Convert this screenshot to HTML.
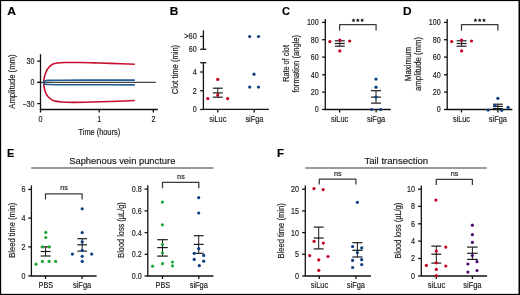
<!DOCTYPE html>
<html><head><meta charset="utf-8"><title>Figure</title>
<style>
html,body{margin:0;padding:0;background:#fff;}
body{width:520px;height:295px;overflow:hidden;}
svg{display:block;font-family:"Liberation Sans", sans-serif;will-change:transform;}
</style></head>
<body>
<svg width="520" height="295" viewBox="0 0 520 295">
<rect x="0" y="0" width="520" height="295" fill="#fff"/>
<text x="7.3" y="15.2" text-anchor="start" font-size="11" font-weight="bold" fill="#000" textLength="8.74" lengthAdjust="spacingAndGlyphs" stroke="#222" stroke-width="0.18">A</text>
<text x="169.8" y="15.2" text-anchor="start" font-size="11" font-weight="bold" fill="#000" textLength="8.58" lengthAdjust="spacingAndGlyphs" stroke="#222" stroke-width="0.18">B</text>
<text x="282.0" y="15.2" text-anchor="start" font-size="11" font-weight="bold" fill="#000" textLength="7.94" lengthAdjust="spacingAndGlyphs" stroke="#222" stroke-width="0.18">C</text>
<text x="402.9" y="14.9" text-anchor="start" font-size="11" font-weight="bold" fill="#000" textLength="8.58" lengthAdjust="spacingAndGlyphs" stroke="#222" stroke-width="0.18">D</text>
<text x="7.0" y="157.3" text-anchor="start" font-size="11" font-weight="bold" fill="#000" textLength="7.34" lengthAdjust="spacingAndGlyphs" stroke="#222" stroke-width="0.18">E</text>
<text x="277.0" y="157.3" text-anchor="start" font-size="11" font-weight="bold" fill="#000" textLength="7.06" lengthAdjust="spacingAndGlyphs" stroke="#222" stroke-width="0.18">F</text>
<path d="M43.75,82.40 C43.76,82.08 43.72,81.27 43.80,80.50 C43.88,79.73 43.98,78.80 44.20,77.80 C44.42,76.80 44.74,75.58 45.10,74.50 C45.46,73.42 45.98,72.13 46.35,71.30 C46.72,70.47 47.00,70.00 47.30,69.50 C47.60,69.00 47.80,68.75 48.15,68.30 C48.50,67.85 48.72,67.43 49.40,66.80 C50.08,66.17 51.13,65.08 52.20,64.50 C53.27,63.92 54.42,63.59 55.80,63.30 C57.18,63.01 58.88,62.88 60.50,62.75 C62.12,62.62 63.92,62.55 65.50,62.50 C67.08,62.45 67.58,62.45 70.00,62.45 C72.42,62.45 75.92,62.43 80.00,62.50 C84.08,62.57 89.50,62.70 94.50,62.85 C99.50,63.00 103.28,63.17 110.00,63.40 C116.72,63.62 130.67,64.07 134.80,64.20" fill="none" stroke="#c8102e" stroke-width="1.6" stroke-linejoin="round"/>
<path d="M43.75,82.40 C43.76,82.72 43.74,83.53 43.80,84.30 C43.86,85.07 43.93,86.02 44.10,87.00 C44.27,87.98 44.52,89.20 44.80,90.20 C45.08,91.20 45.52,92.28 45.80,93.00 C46.08,93.72 46.11,93.87 46.50,94.50 C46.89,95.13 47.48,96.08 48.15,96.80 C48.82,97.52 49.66,98.23 50.50,98.85 C51.34,99.47 52.13,100.08 53.20,100.50 C54.27,100.92 55.52,101.16 56.90,101.40 C58.28,101.64 59.73,101.80 61.50,101.95 C63.27,102.10 65.25,102.23 67.50,102.30 C69.75,102.37 72.08,102.37 75.00,102.35 C77.92,102.33 80.83,102.29 85.00,102.20 C89.17,102.11 94.50,101.97 100.00,101.80 C105.50,101.63 112.20,101.42 118.00,101.20 C123.80,100.98 132.00,100.62 134.80,100.50" fill="none" stroke="#c8102e" stroke-width="1.6" stroke-linejoin="round"/>
<path d="M43.50,82.40 C43.62,82.22 43.87,81.58 44.20,81.30 C44.53,81.02 44.87,80.85 45.50,80.70 C46.13,80.55 45.58,80.48 48.00,80.40 C50.42,80.32 51.33,80.24 60.00,80.20 C68.67,80.16 87.53,80.17 100.00,80.15 C112.47,80.13 129.00,80.11 134.80,80.10" fill="none" stroke="#235d95" stroke-width="1.65" stroke-linejoin="round"/>
<path d="M43.50,82.50 C43.62,82.68 43.87,83.32 44.20,83.60 C44.53,83.88 44.87,84.05 45.50,84.20 C46.13,84.35 45.58,84.42 48.00,84.50 C50.42,84.58 51.33,84.66 60.00,84.70 C68.67,84.74 87.53,84.73 100.00,84.75 C112.47,84.77 129.00,84.79 134.80,84.80" fill="none" stroke="#235d95" stroke-width="1.65" stroke-linejoin="round"/>
<line x1="37.2" y1="82.4" x2="155.8" y2="82.4" stroke="#444" stroke-width="1.3" />
<line x1="40.5" y1="54.2" x2="40.5" y2="109.5" stroke="#111" stroke-width="1.3" />
<line x1="37.3" y1="61.1" x2="40.5" y2="61.1" stroke="#111" stroke-width="1.3" />
<text x="34.5" y="64.0" text-anchor="end" font-size="8.6" font-weight="normal" fill="#222" textLength="7.94" lengthAdjust="spacingAndGlyphs" stroke="#222" stroke-width="0.18">30</text>
<line x1="37.3" y1="82.4" x2="40.5" y2="82.4" stroke="#111" stroke-width="1.3" />
<text x="34.5" y="85.30000000000001" text-anchor="end" font-size="8.6" font-weight="normal" fill="#222" textLength="3.97" lengthAdjust="spacingAndGlyphs" stroke="#222" stroke-width="0.18">0</text>
<line x1="37.3" y1="103.6" x2="40.5" y2="103.6" stroke="#111" stroke-width="1.3" />
<text x="34.5" y="106.5" text-anchor="end" font-size="8.6" font-weight="normal" fill="#222" textLength="12.11" lengthAdjust="spacingAndGlyphs" stroke="#222" stroke-width="0.18">−30</text>
<line x1="39.85" y1="109.5" x2="157.8" y2="109.5" stroke="#111" stroke-width="1.3" />
<line x1="40.5" y1="109.5" x2="40.5" y2="112.5" stroke="#111" stroke-width="1.3" />
<line x1="99.2" y1="109.5" x2="99.2" y2="112.5" stroke="#111" stroke-width="1.3" />
<line x1="153.3" y1="109.5" x2="153.3" y2="112.5" stroke="#111" stroke-width="1.3" />
<text x="40.5" y="121.8" text-anchor="middle" font-size="8.6" font-weight="normal" fill="#222" textLength="3.97" lengthAdjust="spacingAndGlyphs" stroke="#222" stroke-width="0.18">0</text>
<text x="99.2" y="121.8" text-anchor="middle" font-size="8.6" font-weight="normal" fill="#222" textLength="3.97" lengthAdjust="spacingAndGlyphs" stroke="#222" stroke-width="0.18">1</text>
<text x="153.5" y="121.8" text-anchor="middle" font-size="8.6" font-weight="normal" fill="#222" textLength="3.97" lengthAdjust="spacingAndGlyphs" stroke="#222" stroke-width="0.18">2</text>
<text x="99.3" y="134.7" text-anchor="middle" font-size="8.6" font-weight="normal" fill="#222" textLength="41.6" lengthAdjust="spacingAndGlyphs" stroke="#222" stroke-width="0.18">Time (hours)</text>
<text transform="translate(15.1,81.6) rotate(-90)" text-anchor="middle" font-size="8.6" font-weight="normal" fill="#222" textLength="54.2" lengthAdjust="spacingAndGlyphs" stroke="#222" stroke-width="0.18">Amplitude (mm)</text>
<line x1="203.4" y1="30.3" x2="203.4" y2="49.3" stroke="#111" stroke-width="1.3" />
<line x1="200.2" y1="36.5" x2="203.4" y2="36.5" stroke="#111" stroke-width="1.3" />
<line x1="200.2" y1="49.3" x2="206.4" y2="49.3" stroke="#111" stroke-width="1.3" />
<line x1="203.4" y1="62.7" x2="203.4" y2="109.5" stroke="#111" stroke-width="1.3" />
<line x1="200.2" y1="62.7" x2="206.4" y2="62.7" stroke="#111" stroke-width="1.3" />
<line x1="200.2" y1="72.0" x2="203.4" y2="72.0" stroke="#111" stroke-width="1.3" />
<line x1="200.2" y1="90.7" x2="203.4" y2="90.7" stroke="#111" stroke-width="1.3" />
<line x1="200.2" y1="109.5" x2="203.4" y2="109.5" stroke="#111" stroke-width="1.3" />
<text x="196.8" y="39.4" text-anchor="end" font-size="8.6" font-weight="normal" fill="#222" textLength="12.6" lengthAdjust="spacingAndGlyphs" stroke="#222" stroke-width="0.18">&gt;60</text>
<text x="196.8" y="52.199999999999996" text-anchor="end" font-size="8.6" font-weight="normal" fill="#222" textLength="7.94" lengthAdjust="spacingAndGlyphs" stroke="#222" stroke-width="0.18">60</text>
<text x="196.8" y="74.9" text-anchor="end" font-size="8.6" font-weight="normal" fill="#222" textLength="3.97" lengthAdjust="spacingAndGlyphs" stroke="#222" stroke-width="0.18">4</text>
<text x="196.8" y="93.60000000000001" text-anchor="end" font-size="8.6" font-weight="normal" fill="#222" textLength="3.97" lengthAdjust="spacingAndGlyphs" stroke="#222" stroke-width="0.18">2</text>
<text x="196.8" y="112.4" text-anchor="end" font-size="8.6" font-weight="normal" fill="#222" textLength="3.97" lengthAdjust="spacingAndGlyphs" stroke="#222" stroke-width="0.18">0</text>
<line x1="202.75" y1="109.4" x2="268.9" y2="109.4" stroke="#111" stroke-width="1.3" />
<line x1="217.8" y1="109.4" x2="217.8" y2="112.4" stroke="#111" stroke-width="1.3" />
<line x1="254.2" y1="109.4" x2="254.2" y2="112.4" stroke="#111" stroke-width="1.3" />
<text x="217.8" y="121.9" text-anchor="middle" font-size="8.6" font-weight="normal" fill="#222" textLength="17.0" lengthAdjust="spacingAndGlyphs" stroke="#222" stroke-width="0.18">siLuc</text>
<text x="254.4" y="121.9" text-anchor="middle" font-size="8.6" font-weight="normal" fill="#222" textLength="18.0" lengthAdjust="spacingAndGlyphs" stroke="#222" stroke-width="0.18">siFga</text>
<text transform="translate(178.0,69.5) rotate(-90)" text-anchor="middle" font-size="8.6" font-weight="normal" fill="#222" textLength="49.3" lengthAdjust="spacingAndGlyphs" stroke="#222" stroke-width="0.18">Clot time (min)</text>
<line x1="217.75" y1="88.2" x2="217.75" y2="97.2" stroke="#1a1a1a" stroke-width="1.0" />
<line x1="212.8" y1="88.2" x2="222.7" y2="88.2" stroke="#1a1a1a" stroke-width="1.2" />
<line x1="212.8" y1="92.9" x2="222.7" y2="92.9" stroke="#1a1a1a" stroke-width="1.2" />
<line x1="212.8" y1="97.2" x2="222.7" y2="97.2" stroke="#1a1a1a" stroke-width="1.2" />
<circle cx="207.8" cy="98.6" r="1.6" fill="#c70025"/>
<circle cx="217.75" cy="79.4" r="1.6" fill="#c70025"/>
<circle cx="217.75" cy="95.0" r="1.6" fill="#c70025"/>
<circle cx="227.6" cy="98.6" r="1.6" fill="#c70025"/>
<circle cx="249.7" cy="36.5" r="1.6" fill="#0b3f7f"/>
<circle cx="258.5" cy="36.5" r="1.6" fill="#0b3f7f"/>
<circle cx="254.0" cy="74.2" r="1.6" fill="#0b3f7f"/>
<circle cx="249.7" cy="87.1" r="1.6" fill="#0b3f7f"/>
<circle cx="258.5" cy="87.1" r="1.6" fill="#0b3f7f"/>
<line x1="325.3" y1="19.1" x2="325.3" y2="109.5" stroke="#111" stroke-width="1.3" />
<line x1="322.1" y1="22.4" x2="325.3" y2="22.4" stroke="#111" stroke-width="1.3" />
<text x="318.8" y="25.299999999999997" text-anchor="end" font-size="8.6" font-weight="normal" fill="#222" textLength="11.91" lengthAdjust="spacingAndGlyphs" stroke="#222" stroke-width="0.18">100</text>
<line x1="322.1" y1="39.7" x2="325.3" y2="39.7" stroke="#111" stroke-width="1.3" />
<text x="318.8" y="42.6" text-anchor="end" font-size="8.6" font-weight="normal" fill="#222" textLength="7.94" lengthAdjust="spacingAndGlyphs" stroke="#222" stroke-width="0.18">80</text>
<line x1="322.1" y1="57.1" x2="325.3" y2="57.1" stroke="#111" stroke-width="1.3" />
<text x="318.8" y="60.0" text-anchor="end" font-size="8.6" font-weight="normal" fill="#222" textLength="7.94" lengthAdjust="spacingAndGlyphs" stroke="#222" stroke-width="0.18">60</text>
<line x1="322.1" y1="74.8" x2="325.3" y2="74.8" stroke="#111" stroke-width="1.3" />
<text x="318.8" y="77.7" text-anchor="end" font-size="8.6" font-weight="normal" fill="#222" textLength="7.94" lengthAdjust="spacingAndGlyphs" stroke="#222" stroke-width="0.18">40</text>
<line x1="322.1" y1="92.1" x2="325.3" y2="92.1" stroke="#111" stroke-width="1.3" />
<text x="318.8" y="95.0" text-anchor="end" font-size="8.6" font-weight="normal" fill="#222" textLength="7.94" lengthAdjust="spacingAndGlyphs" stroke="#222" stroke-width="0.18">20</text>
<line x1="322.1" y1="109.5" x2="325.3" y2="109.5" stroke="#111" stroke-width="1.3" />
<text x="318.8" y="112.4" text-anchor="end" font-size="8.6" font-weight="normal" fill="#222" textLength="3.97" lengthAdjust="spacingAndGlyphs" stroke="#222" stroke-width="0.18">0</text>
<line x1="324.65000000000003" y1="109.5" x2="390.7" y2="109.5" stroke="#111" stroke-width="1.3" />
<line x1="339.6" y1="109.5" x2="339.6" y2="112.5" stroke="#111" stroke-width="1.3" />
<line x1="376.1" y1="109.5" x2="376.1" y2="112.5" stroke="#111" stroke-width="1.3" />
<text x="339.6" y="121.9" text-anchor="middle" font-size="8.6" font-weight="normal" fill="#222" textLength="17.0" lengthAdjust="spacingAndGlyphs" stroke="#222" stroke-width="0.18">siLuc</text>
<text x="376.1" y="121.9" text-anchor="middle" font-size="8.6" font-weight="normal" fill="#222" textLength="18.2" lengthAdjust="spacingAndGlyphs" stroke="#222" stroke-width="0.18">siFga</text>
<path d="M339.6,30.5 V24.6 H376.1 V30.5" fill="none" stroke="#3a3a3a" stroke-width="1.25" stroke-linejoin="round"/>
<polygon points="353.55,18.20 354.17,19.45 355.55,19.65 354.55,20.62 354.78,22.00 353.55,21.35 352.32,22.00 352.55,20.62 351.55,19.65 352.93,19.45" fill="#111"/>
<polygon points="357.85,18.20 358.47,19.45 359.85,19.65 358.85,20.62 359.08,22.00 357.85,21.35 356.62,22.00 356.85,20.62 355.85,19.65 357.23,19.45" fill="#111"/>
<polygon points="362.15,18.20 362.77,19.45 364.15,19.65 363.15,20.62 363.38,22.00 362.15,21.35 360.92,22.00 361.15,20.62 360.15,19.65 361.53,19.45" fill="#111"/>
<line x1="339.8" y1="40.8" x2="339.8" y2="46.2" stroke="#1a1a1a" stroke-width="1.0" />
<line x1="334.85" y1="40.8" x2="344.75" y2="40.8" stroke="#1a1a1a" stroke-width="1.2" />
<line x1="334.85" y1="43.5" x2="344.75" y2="43.5" stroke="#1a1a1a" stroke-width="1.2" />
<line x1="334.85" y1="46.2" x2="344.75" y2="46.2" stroke="#1a1a1a" stroke-width="1.2" />
<circle cx="329.90000000000003" cy="41.6" r="1.6" fill="#c70025"/>
<circle cx="339.8" cy="40.1" r="1.6" fill="#c70025"/>
<circle cx="349.7" cy="41.0" r="1.6" fill="#c70025"/>
<circle cx="339.8" cy="50.9" r="1.6" fill="#c70025"/>
<line x1="376.0" y1="90.7" x2="376.0" y2="103.1" stroke="#1a1a1a" stroke-width="1.0" />
<line x1="371.0" y1="90.7" x2="381.0" y2="90.7" stroke="#1a1a1a" stroke-width="1.2" />
<line x1="371.0" y1="97.1" x2="381.0" y2="97.1" stroke="#1a1a1a" stroke-width="1.2" />
<line x1="371.0" y1="103.1" x2="381.0" y2="103.1" stroke="#1a1a1a" stroke-width="1.2" />
<circle cx="376" cy="79.1" r="1.6" fill="#0b3f7f"/>
<circle cx="376" cy="87.2" r="1.6" fill="#0b3f7f"/>
<circle cx="376" cy="97.1" r="1.6" fill="#0b3f7f"/>
<circle cx="371.7" cy="109.5" r="1.6" fill="#0b3f7f"/>
<circle cx="380.6" cy="109.5" r="1.6" fill="#0b3f7f"/>
<text transform="translate(288.7,63.4) rotate(-90)" text-anchor="middle" font-size="8.6" font-weight="normal" fill="#222" textLength="36.6" lengthAdjust="spacingAndGlyphs" stroke="#222" stroke-width="0.18">Rate of clot</text>
<text transform="translate(299.2,63.7) rotate(-90)" text-anchor="middle" font-size="8.6" font-weight="normal" fill="#222" textLength="57.6" lengthAdjust="spacingAndGlyphs" stroke="#222" stroke-width="0.18">formation (angle)</text>
<line x1="447.2" y1="19.1" x2="447.2" y2="109.5" stroke="#111" stroke-width="1.3" />
<line x1="444.0" y1="22.4" x2="447.2" y2="22.4" stroke="#111" stroke-width="1.3" />
<text x="440.7" y="25.299999999999997" text-anchor="end" font-size="8.6" font-weight="normal" fill="#222" textLength="11.91" lengthAdjust="spacingAndGlyphs" stroke="#222" stroke-width="0.18">100</text>
<line x1="444.0" y1="39.7" x2="447.2" y2="39.7" stroke="#111" stroke-width="1.3" />
<text x="440.7" y="42.6" text-anchor="end" font-size="8.6" font-weight="normal" fill="#222" textLength="7.94" lengthAdjust="spacingAndGlyphs" stroke="#222" stroke-width="0.18">80</text>
<line x1="444.0" y1="57.1" x2="447.2" y2="57.1" stroke="#111" stroke-width="1.3" />
<text x="440.7" y="60.0" text-anchor="end" font-size="8.6" font-weight="normal" fill="#222" textLength="7.94" lengthAdjust="spacingAndGlyphs" stroke="#222" stroke-width="0.18">60</text>
<line x1="444.0" y1="74.8" x2="447.2" y2="74.8" stroke="#111" stroke-width="1.3" />
<text x="440.7" y="77.7" text-anchor="end" font-size="8.6" font-weight="normal" fill="#222" textLength="7.94" lengthAdjust="spacingAndGlyphs" stroke="#222" stroke-width="0.18">40</text>
<line x1="444.0" y1="92.1" x2="447.2" y2="92.1" stroke="#111" stroke-width="1.3" />
<text x="440.7" y="95.0" text-anchor="end" font-size="8.6" font-weight="normal" fill="#222" textLength="7.94" lengthAdjust="spacingAndGlyphs" stroke="#222" stroke-width="0.18">20</text>
<line x1="444.0" y1="109.5" x2="447.2" y2="109.5" stroke="#111" stroke-width="1.3" />
<text x="440.7" y="112.4" text-anchor="end" font-size="8.6" font-weight="normal" fill="#222" textLength="3.97" lengthAdjust="spacingAndGlyphs" stroke="#222" stroke-width="0.18">0</text>
<line x1="446.55" y1="109.5" x2="512.4" y2="109.5" stroke="#111" stroke-width="1.3" />
<line x1="461.5" y1="109.5" x2="461.5" y2="112.5" stroke="#111" stroke-width="1.3" />
<line x1="497.9" y1="109.5" x2="497.9" y2="112.5" stroke="#111" stroke-width="1.3" />
<text x="461.5" y="121.9" text-anchor="middle" font-size="8.6" font-weight="normal" fill="#222" textLength="17.0" lengthAdjust="spacingAndGlyphs" stroke="#222" stroke-width="0.18">siLuc</text>
<text x="497.9" y="121.9" text-anchor="middle" font-size="8.6" font-weight="normal" fill="#222" textLength="18.2" lengthAdjust="spacingAndGlyphs" stroke="#222" stroke-width="0.18">siFga</text>
<path d="M461.5,30.5 V24.6 H497.9 V30.5" fill="none" stroke="#3a3a3a" stroke-width="1.25" stroke-linejoin="round"/>
<polygon points="475.40,18.20 476.02,19.45 477.40,19.65 476.40,20.62 476.63,22.00 475.40,21.35 474.17,22.00 474.40,20.62 473.40,19.65 474.78,19.45" fill="#111"/>
<polygon points="479.70,18.20 480.32,19.45 481.70,19.65 480.70,20.62 480.93,22.00 479.70,21.35 478.47,22.00 478.70,20.62 477.70,19.65 479.08,19.45" fill="#111"/>
<polygon points="484.00,18.20 484.62,19.45 486.00,19.65 485.00,20.62 485.23,22.00 484.00,21.35 482.77,22.00 483.00,20.62 482.00,19.65 483.38,19.45" fill="#111"/>
<line x1="461.6" y1="40.8" x2="461.6" y2="46.2" stroke="#1a1a1a" stroke-width="1.0" />
<line x1="456.65000000000003" y1="40.8" x2="466.55" y2="40.8" stroke="#1a1a1a" stroke-width="1.2" />
<line x1="456.65000000000003" y1="43.5" x2="466.55" y2="43.5" stroke="#1a1a1a" stroke-width="1.2" />
<line x1="456.65000000000003" y1="46.2" x2="466.55" y2="46.2" stroke="#1a1a1a" stroke-width="1.2" />
<circle cx="451.70000000000005" cy="41.6" r="1.6" fill="#c70025"/>
<circle cx="461.6" cy="40.1" r="1.6" fill="#c70025"/>
<circle cx="471.5" cy="41.0" r="1.6" fill="#c70025"/>
<circle cx="461.6" cy="50.9" r="1.6" fill="#c70025"/>
<line x1="497.9" y1="104.2" x2="497.9" y2="108.6" stroke="#1a1a1a" stroke-width="1.0" />
<line x1="493.0" y1="104.2" x2="502.79999999999995" y2="104.2" stroke="#1a1a1a" stroke-width="1.2" />
<line x1="493.0" y1="106.4" x2="502.79999999999995" y2="106.4" stroke="#1a1a1a" stroke-width="1.2" />
<line x1="493.0" y1="108.6" x2="502.79999999999995" y2="108.6" stroke="#1a1a1a" stroke-width="1.2" />
<circle cx="497.9" cy="98.3" r="1.6" fill="#0b3f7f"/>
<circle cx="494.8" cy="105.8" r="1.6" fill="#0b3f7f"/>
<circle cx="488.1" cy="110.1" r="1.6" fill="#0b3f7f"/>
<circle cx="501.7" cy="110.3" r="1.6" fill="#0b3f7f"/>
<circle cx="508.1" cy="107.3" r="1.6" fill="#0b3f7f"/>
<text transform="translate(410.5,64.0) rotate(-90)" text-anchor="middle" font-size="8.6" font-weight="normal" fill="#222" textLength="34.4" lengthAdjust="spacingAndGlyphs" stroke="#222" stroke-width="0.18">Maximum</text>
<text transform="translate(420.9,63.9) rotate(-90)" text-anchor="middle" font-size="8.6" font-weight="normal" fill="#222" textLength="54.2" lengthAdjust="spacingAndGlyphs" stroke="#222" stroke-width="0.18">amplitude (mm)</text>
<line x1="31.2" y1="168.0" x2="213.5" y2="168.0" stroke="#777" stroke-width="1.5" />
<text x="122.3" y="164.0" text-anchor="middle" font-size="9.8" font-weight="normal" fill="#1a1a1a" textLength="106.2" lengthAdjust="spacingAndGlyphs" stroke="#222" stroke-width="0.18">Saphenous vein puncture</text>
<line x1="305.3" y1="168.0" x2="486.7" y2="168.0" stroke="#777" stroke-width="1.5" />
<text x="396.3" y="164.3" text-anchor="middle" font-size="9.8" font-weight="normal" fill="#1a1a1a" textLength="63.8" lengthAdjust="spacingAndGlyphs" stroke="#222" stroke-width="0.18">Tail transection</text>
<line x1="31.4" y1="185.4" x2="31.4" y2="276.0" stroke="#111" stroke-width="1.3" />
<line x1="28.2" y1="189.4" x2="31.4" y2="189.4" stroke="#111" stroke-width="1.3" />
<text x="25.4" y="192.3" text-anchor="end" font-size="8.6" font-weight="normal" fill="#222" textLength="3.97" lengthAdjust="spacingAndGlyphs" stroke="#222" stroke-width="0.18">6</text>
<line x1="28.2" y1="218.1" x2="31.4" y2="218.1" stroke="#111" stroke-width="1.3" />
<text x="25.4" y="221.0" text-anchor="end" font-size="8.6" font-weight="normal" fill="#222" textLength="3.97" lengthAdjust="spacingAndGlyphs" stroke="#222" stroke-width="0.18">4</text>
<line x1="28.2" y1="246.9" x2="31.4" y2="246.9" stroke="#111" stroke-width="1.3" />
<text x="25.4" y="249.8" text-anchor="end" font-size="8.6" font-weight="normal" fill="#222" textLength="3.97" lengthAdjust="spacingAndGlyphs" stroke="#222" stroke-width="0.18">2</text>
<line x1="28.2" y1="275.9" x2="31.4" y2="275.9" stroke="#111" stroke-width="1.3" />
<text x="25.4" y="278.79999999999995" text-anchor="end" font-size="8.6" font-weight="normal" fill="#222" textLength="3.97" lengthAdjust="spacingAndGlyphs" stroke="#222" stroke-width="0.18">0</text>
<line x1="30.75" y1="276.0" x2="96.6" y2="276.0" stroke="#111" stroke-width="1.3" />
<line x1="45.5" y1="276.0" x2="45.5" y2="279.0" stroke="#111" stroke-width="1.3" />
<line x1="82.1" y1="276.0" x2="82.1" y2="279.0" stroke="#111" stroke-width="1.3" />
<text x="45.85" y="287.9" text-anchor="middle" font-size="8.6" font-weight="normal" fill="#222" textLength="14.5" lengthAdjust="spacingAndGlyphs" stroke="#222" stroke-width="0.18">PBS</text>
<text x="82.1" y="287.9" text-anchor="middle" font-size="8.6" font-weight="normal" fill="#222" textLength="18.2" lengthAdjust="spacingAndGlyphs" stroke="#222" stroke-width="0.18">siFga</text>
<path d="M45.5,199.6 V193.8 H82.1 V199.6" fill="none" stroke="#3a3a3a" stroke-width="1.25" stroke-linejoin="round"/>
<text x="64.1" y="190.2" text-anchor="middle" font-size="7.2" font-weight="normal" fill="#222" textLength="7.7" lengthAdjust="spacingAndGlyphs" stroke="#222" stroke-width="0.18">ns</text>
<text transform="translate(14.5,230.2) rotate(-90)" text-anchor="middle" font-size="8.6" font-weight="normal" fill="#222" textLength="55.0" lengthAdjust="spacingAndGlyphs" stroke="#222" stroke-width="0.18">Bleed time (min)</text>
<line x1="45.6" y1="246.9" x2="45.6" y2="256.0" stroke="#1a1a1a" stroke-width="1.0" />
<line x1="40.65" y1="246.9" x2="50.550000000000004" y2="246.9" stroke="#1a1a1a" stroke-width="1.2" />
<line x1="40.65" y1="251.5" x2="50.550000000000004" y2="251.5" stroke="#1a1a1a" stroke-width="1.2" />
<line x1="40.65" y1="256.0" x2="50.550000000000004" y2="256.0" stroke="#1a1a1a" stroke-width="1.2" />
<circle cx="45.8" cy="232.4" r="1.6" fill="#1ea83a"/>
<circle cx="45.8" cy="237.5" r="1.6" fill="#1ea83a"/>
<circle cx="42.4" cy="246.9" r="1.6" fill="#1ea83a"/>
<circle cx="49.3" cy="246.9" r="1.6" fill="#1ea83a"/>
<circle cx="42.4" cy="261.4" r="1.6" fill="#1ea83a"/>
<circle cx="49.1" cy="261.4" r="1.6" fill="#1ea83a"/>
<circle cx="55.6" cy="261.4" r="1.6" fill="#1ea83a"/>
<circle cx="36.1" cy="264.2" r="1.6" fill="#1ea83a"/>
<line x1="82.2" y1="238.7" x2="82.2" y2="251.1" stroke="#1a1a1a" stroke-width="1.0" />
<line x1="77.35000000000001" y1="238.7" x2="87.05" y2="238.7" stroke="#1a1a1a" stroke-width="1.2" />
<line x1="77.35000000000001" y1="244.8" x2="87.05" y2="244.8" stroke="#1a1a1a" stroke-width="1.2" />
<line x1="77.35000000000001" y1="251.1" x2="87.05" y2="251.1" stroke="#1a1a1a" stroke-width="1.2" />
<circle cx="82.2" cy="208.8" r="1.6" fill="#0b3f7f"/>
<circle cx="82.2" cy="232.6" r="1.6" fill="#0b3f7f"/>
<circle cx="82.2" cy="241.9" r="1.6" fill="#0b3f7f"/>
<circle cx="82.2" cy="250.4" r="1.6" fill="#0b3f7f"/>
<circle cx="72.4" cy="254.1" r="1.6" fill="#0b3f7f"/>
<circle cx="91.7" cy="254.1" r="1.6" fill="#0b3f7f"/>
<circle cx="82.2" cy="256.3" r="1.6" fill="#0b3f7f"/>
<circle cx="82.2" cy="261.4" r="1.6" fill="#0b3f7f"/>
<line x1="147.8" y1="185.3" x2="147.8" y2="276.0" stroke="#111" stroke-width="1.3" />
<line x1="144.60000000000002" y1="189.1" x2="147.8" y2="189.1" stroke="#111" stroke-width="1.3" />
<text x="141.7" y="192.0" text-anchor="end" font-size="8.6" font-weight="normal" fill="#222" textLength="9.92" lengthAdjust="spacingAndGlyphs" stroke="#222" stroke-width="0.18">0.8</text>
<line x1="144.60000000000002" y1="210.9" x2="147.8" y2="210.9" stroke="#111" stroke-width="1.3" />
<text x="141.7" y="213.8" text-anchor="end" font-size="8.6" font-weight="normal" fill="#222" textLength="9.92" lengthAdjust="spacingAndGlyphs" stroke="#222" stroke-width="0.18">0.6</text>
<line x1="144.60000000000002" y1="232.6" x2="147.8" y2="232.6" stroke="#111" stroke-width="1.3" />
<text x="141.7" y="235.5" text-anchor="end" font-size="8.6" font-weight="normal" fill="#222" textLength="9.92" lengthAdjust="spacingAndGlyphs" stroke="#222" stroke-width="0.18">0.4</text>
<line x1="144.60000000000002" y1="254.4" x2="147.8" y2="254.4" stroke="#111" stroke-width="1.3" />
<text x="141.7" y="257.3" text-anchor="end" font-size="8.6" font-weight="normal" fill="#222" textLength="9.92" lengthAdjust="spacingAndGlyphs" stroke="#222" stroke-width="0.18">0.2</text>
<line x1="144.60000000000002" y1="276.0" x2="147.8" y2="276.0" stroke="#111" stroke-width="1.3" />
<text x="141.7" y="278.9" text-anchor="end" font-size="8.6" font-weight="normal" fill="#222" textLength="9.92" lengthAdjust="spacingAndGlyphs" stroke="#222" stroke-width="0.18">0.0</text>
<line x1="147.15" y1="276.0" x2="213.5" y2="276.0" stroke="#111" stroke-width="1.3" />
<line x1="162.5" y1="276.0" x2="162.5" y2="279.0" stroke="#111" stroke-width="1.3" />
<line x1="198.8" y1="276.0" x2="198.8" y2="279.0" stroke="#111" stroke-width="1.3" />
<text x="162.85" y="287.9" text-anchor="middle" font-size="8.6" font-weight="normal" fill="#222" textLength="14.5" lengthAdjust="spacingAndGlyphs" stroke="#222" stroke-width="0.18">PBS</text>
<text x="198.8" y="287.9" text-anchor="middle" font-size="8.6" font-weight="normal" fill="#222" textLength="18.2" lengthAdjust="spacingAndGlyphs" stroke="#222" stroke-width="0.18">siFga</text>
<path d="M162.5,188.2 V182.3 H198.8 V188.2" fill="none" stroke="#3a3a3a" stroke-width="1.25" stroke-linejoin="round"/>
<text x="180.95000000000002" y="178.7" text-anchor="middle" font-size="7.2" font-weight="normal" fill="#222" textLength="7.7" lengthAdjust="spacingAndGlyphs" stroke="#222" stroke-width="0.18">ns</text>
<text transform="translate(123.8,230.0) rotate(-90)" text-anchor="middle" font-size="8.6" font-weight="normal" fill="#222" textLength="55.4" lengthAdjust="spacingAndGlyphs" stroke="#222" stroke-width="0.18">Blood loss (µL/g)</text>
<line x1="162.5" y1="239.7" x2="162.5" y2="256.1" stroke="#1a1a1a" stroke-width="1.0" />
<line x1="157.2" y1="239.7" x2="167.8" y2="239.7" stroke="#1a1a1a" stroke-width="1.2" />
<line x1="157.2" y1="247.6" x2="167.8" y2="247.6" stroke="#1a1a1a" stroke-width="1.2" />
<line x1="157.2" y1="256.1" x2="167.8" y2="256.1" stroke="#1a1a1a" stroke-width="1.2" />
<circle cx="162.4" cy="202.1" r="1.6" fill="#1ea83a"/>
<circle cx="162.4" cy="224.8" r="1.6" fill="#1ea83a"/>
<circle cx="162.5" cy="244.5" r="1.6" fill="#1ea83a"/>
<circle cx="162.5" cy="252.8" r="1.6" fill="#1ea83a"/>
<circle cx="162.5" cy="263.7" r="1.6" fill="#1ea83a"/>
<circle cx="172.5" cy="262.0" r="1.6" fill="#1ea83a"/>
<circle cx="172.5" cy="265.8" r="1.6" fill="#1ea83a"/>
<circle cx="152.6" cy="266.2" r="1.6" fill="#1ea83a"/>
<line x1="198.7" y1="235.7" x2="198.7" y2="253.3" stroke="#1a1a1a" stroke-width="1.0" />
<line x1="193.85" y1="235.7" x2="203.54999999999998" y2="235.7" stroke="#1a1a1a" stroke-width="1.2" />
<line x1="193.85" y1="244.4" x2="203.54999999999998" y2="244.4" stroke="#1a1a1a" stroke-width="1.2" />
<line x1="193.85" y1="253.3" x2="203.54999999999998" y2="253.3" stroke="#1a1a1a" stroke-width="1.2" />
<circle cx="198.7" cy="197.7" r="1.6" fill="#0b3f7f"/>
<circle cx="198.7" cy="213.0" r="1.6" fill="#0b3f7f"/>
<circle cx="198.7" cy="248.7" r="1.6" fill="#0b3f7f"/>
<circle cx="194.2" cy="253.3" r="1.6" fill="#0b3f7f"/>
<circle cx="203.7" cy="255.4" r="1.6" fill="#0b3f7f"/>
<circle cx="194.2" cy="259.4" r="1.6" fill="#0b3f7f"/>
<circle cx="203.7" cy="261.2" r="1.6" fill="#0b3f7f"/>
<circle cx="199.3" cy="265.7" r="1.6" fill="#0b3f7f"/>
<line x1="305.3" y1="185.6" x2="305.3" y2="276.0" stroke="#111" stroke-width="1.3" />
<line x1="302.1" y1="189.2" x2="305.3" y2="189.2" stroke="#111" stroke-width="1.3" />
<text x="299.0" y="192.1" text-anchor="end" font-size="8.6" font-weight="normal" fill="#222" textLength="7.94" lengthAdjust="spacingAndGlyphs" stroke="#222" stroke-width="0.18">20</text>
<line x1="302.1" y1="210.9" x2="305.3" y2="210.9" stroke="#111" stroke-width="1.3" />
<text x="299.0" y="213.8" text-anchor="end" font-size="8.6" font-weight="normal" fill="#222" textLength="7.94" lengthAdjust="spacingAndGlyphs" stroke="#222" stroke-width="0.18">15</text>
<line x1="302.1" y1="232.6" x2="305.3" y2="232.6" stroke="#111" stroke-width="1.3" />
<text x="299.0" y="235.5" text-anchor="end" font-size="8.6" font-weight="normal" fill="#222" textLength="7.94" lengthAdjust="spacingAndGlyphs" stroke="#222" stroke-width="0.18">10</text>
<line x1="302.1" y1="254.3" x2="305.3" y2="254.3" stroke="#111" stroke-width="1.3" />
<text x="299.0" y="257.2" text-anchor="end" font-size="8.6" font-weight="normal" fill="#222" textLength="3.97" lengthAdjust="spacingAndGlyphs" stroke="#222" stroke-width="0.18">5</text>
<line x1="302.1" y1="276.0" x2="305.3" y2="276.0" stroke="#111" stroke-width="1.3" />
<text x="299.0" y="278.9" text-anchor="end" font-size="8.6" font-weight="normal" fill="#222" textLength="3.97" lengthAdjust="spacingAndGlyphs" stroke="#222" stroke-width="0.18">0</text>
<line x1="304.65000000000003" y1="276.0" x2="370.9" y2="276.0" stroke="#111" stroke-width="1.3" />
<line x1="319.3" y1="276.0" x2="319.3" y2="279.0" stroke="#111" stroke-width="1.3" />
<line x1="355.9" y1="276.0" x2="355.9" y2="279.0" stroke="#111" stroke-width="1.3" />
<text x="319.5" y="287.9" text-anchor="middle" font-size="8.6" font-weight="normal" fill="#222" textLength="17.4" lengthAdjust="spacingAndGlyphs" stroke="#222" stroke-width="0.18">siLuc</text>
<text x="355.9" y="287.9" text-anchor="middle" font-size="8.6" font-weight="normal" fill="#222" textLength="18.2" lengthAdjust="spacingAndGlyphs" stroke="#222" stroke-width="0.18">siFga</text>
<path d="M319.3,184.6 V179.1 H355.9 V184.6" fill="none" stroke="#3a3a3a" stroke-width="1.25" stroke-linejoin="round"/>
<text x="337.90000000000003" y="175.6" text-anchor="middle" font-size="7.2" font-weight="normal" fill="#222" textLength="7.7" lengthAdjust="spacingAndGlyphs" stroke="#222" stroke-width="0.18">ns</text>
<text transform="translate(284.4,230.9) rotate(-90)" text-anchor="middle" font-size="8.6" font-weight="normal" fill="#222" textLength="55.2" lengthAdjust="spacingAndGlyphs" stroke="#222" stroke-width="0.18">Bleed time (min)</text>
<line x1="318.7" y1="227.1" x2="318.7" y2="248.9" stroke="#1a1a1a" stroke-width="1.0" />
<line x1="313.75" y1="227.1" x2="323.65" y2="227.1" stroke="#1a1a1a" stroke-width="1.2" />
<line x1="313.75" y1="238.0" x2="323.65" y2="238.0" stroke="#1a1a1a" stroke-width="1.2" />
<line x1="313.75" y1="248.9" x2="323.65" y2="248.9" stroke="#1a1a1a" stroke-width="1.2" />
<circle cx="314.0" cy="188.6" r="1.6" fill="#c70025"/>
<circle cx="323.2" cy="189.6" r="1.6" fill="#c70025"/>
<circle cx="314.1" cy="241.3" r="1.6" fill="#c70025"/>
<circle cx="323.3" cy="243.1" r="1.6" fill="#c70025"/>
<circle cx="309.7" cy="255.6" r="1.6" fill="#c70025"/>
<circle cx="328.0" cy="256.5" r="1.6" fill="#c70025"/>
<circle cx="318.8" cy="259.9" r="1.6" fill="#c70025"/>
<circle cx="318.8" cy="270.3" r="1.6" fill="#c70025"/>
<line x1="357.4" y1="242.7" x2="357.4" y2="257.0" stroke="#1a1a1a" stroke-width="1.0" />
<line x1="352.29999999999995" y1="242.7" x2="362.5" y2="242.7" stroke="#1a1a1a" stroke-width="1.2" />
<line x1="352.29999999999995" y1="250.3" x2="362.5" y2="250.3" stroke="#1a1a1a" stroke-width="1.2" />
<line x1="352.29999999999995" y1="257.0" x2="362.5" y2="257.0" stroke="#1a1a1a" stroke-width="1.2" />
<circle cx="357.4" cy="202.3" r="1.6" fill="#0b3f7f"/>
<circle cx="352.6" cy="246.5" r="1.6" fill="#0b3f7f"/>
<circle cx="361.7" cy="247.9" r="1.6" fill="#0b3f7f"/>
<circle cx="357.4" cy="252.6" r="1.6" fill="#0b3f7f"/>
<circle cx="352.6" cy="260.4" r="1.6" fill="#0b3f7f"/>
<circle cx="361.7" cy="259.7" r="1.6" fill="#0b3f7f"/>
<circle cx="361.7" cy="264.6" r="1.6" fill="#0b3f7f"/>
<circle cx="352.6" cy="267.5" r="1.6" fill="#0b3f7f"/>
<line x1="421.3" y1="185.4" x2="421.3" y2="276.0" stroke="#111" stroke-width="1.3" />
<line x1="418.1" y1="189.2" x2="421.3" y2="189.2" stroke="#111" stroke-width="1.3" />
<text x="415.0" y="192.1" text-anchor="end" font-size="8.6" font-weight="normal" fill="#222" textLength="7.94" lengthAdjust="spacingAndGlyphs" stroke="#222" stroke-width="0.18">10</text>
<line x1="418.1" y1="206.4" x2="421.3" y2="206.4" stroke="#111" stroke-width="1.3" />
<text x="415.0" y="209.3" text-anchor="end" font-size="8.6" font-weight="normal" fill="#222" textLength="3.97" lengthAdjust="spacingAndGlyphs" stroke="#222" stroke-width="0.18">8</text>
<line x1="418.1" y1="223.8" x2="421.3" y2="223.8" stroke="#111" stroke-width="1.3" />
<text x="415.0" y="226.70000000000002" text-anchor="end" font-size="8.6" font-weight="normal" fill="#222" textLength="3.97" lengthAdjust="spacingAndGlyphs" stroke="#222" stroke-width="0.18">6</text>
<line x1="418.1" y1="241.1" x2="421.3" y2="241.1" stroke="#111" stroke-width="1.3" />
<text x="415.0" y="244.0" text-anchor="end" font-size="8.6" font-weight="normal" fill="#222" textLength="3.97" lengthAdjust="spacingAndGlyphs" stroke="#222" stroke-width="0.18">4</text>
<line x1="418.1" y1="258.5" x2="421.3" y2="258.5" stroke="#111" stroke-width="1.3" />
<text x="415.0" y="261.4" text-anchor="end" font-size="8.6" font-weight="normal" fill="#222" textLength="3.97" lengthAdjust="spacingAndGlyphs" stroke="#222" stroke-width="0.18">2</text>
<line x1="418.1" y1="276.0" x2="421.3" y2="276.0" stroke="#111" stroke-width="1.3" />
<text x="415.0" y="278.9" text-anchor="end" font-size="8.6" font-weight="normal" fill="#222" textLength="3.97" lengthAdjust="spacingAndGlyphs" stroke="#222" stroke-width="0.18">0</text>
<line x1="420.65000000000003" y1="276.0" x2="487.1" y2="276.0" stroke="#111" stroke-width="1.3" />
<line x1="436.3" y1="276.0" x2="436.3" y2="279.0" stroke="#111" stroke-width="1.3" />
<line x1="472.4" y1="276.0" x2="472.4" y2="279.0" stroke="#111" stroke-width="1.3" />
<text x="436.5" y="287.9" text-anchor="middle" font-size="8.6" font-weight="normal" fill="#222" textLength="17.4" lengthAdjust="spacingAndGlyphs" stroke="#222" stroke-width="0.18">siLuc</text>
<text x="472.4" y="287.9" text-anchor="middle" font-size="8.6" font-weight="normal" fill="#222" textLength="18.2" lengthAdjust="spacingAndGlyphs" stroke="#222" stroke-width="0.18">siFga</text>
<path d="M436.3,184.9 V179.3 H472.4 V184.9" fill="none" stroke="#3a3a3a" stroke-width="1.25" stroke-linejoin="round"/>
<text x="454.65000000000003" y="175.7" text-anchor="middle" font-size="7.2" font-weight="normal" fill="#222" textLength="7.7" lengthAdjust="spacingAndGlyphs" stroke="#222" stroke-width="0.18">ns</text>
<text transform="translate(401.0,230.7) rotate(-90)" text-anchor="middle" font-size="8.6" font-weight="normal" fill="#222" textLength="55.8" lengthAdjust="spacingAndGlyphs" stroke="#222" stroke-width="0.18">Blood loss (µL/g)</text>
<line x1="436.3" y1="246.1" x2="436.3" y2="263.1" stroke="#1a1a1a" stroke-width="1.0" />
<line x1="431.35" y1="246.1" x2="441.25" y2="246.1" stroke="#1a1a1a" stroke-width="1.2" />
<line x1="431.35" y1="254.2" x2="441.25" y2="254.2" stroke="#1a1a1a" stroke-width="1.2" />
<line x1="431.35" y1="263.1" x2="441.25" y2="263.1" stroke="#1a1a1a" stroke-width="1.2" />
<circle cx="435.9" cy="200.1" r="1.6" fill="#c70025"/>
<circle cx="445.8" cy="247.1" r="1.6" fill="#c70025"/>
<circle cx="436.3" cy="251.1" r="1.6" fill="#c70025"/>
<circle cx="426.4" cy="265.4" r="1.6" fill="#c70025"/>
<circle cx="436.3" cy="262.8" r="1.6" fill="#c70025"/>
<circle cx="445.8" cy="266.0" r="1.6" fill="#c70025"/>
<circle cx="436.3" cy="269.4" r="1.6" fill="#c70025"/>
<circle cx="436.3" cy="275.7" r="1.6" fill="#c70025"/>
<line x1="472.4" y1="247.1" x2="472.4" y2="259.4" stroke="#1a1a1a" stroke-width="1.0" />
<line x1="467.09999999999997" y1="247.1" x2="477.7" y2="247.1" stroke="#1a1a1a" stroke-width="1.2" />
<line x1="467.09999999999997" y1="253.3" x2="477.7" y2="253.3" stroke="#1a1a1a" stroke-width="1.2" />
<line x1="467.09999999999997" y1="259.4" x2="477.7" y2="259.4" stroke="#1a1a1a" stroke-width="1.2" />
<circle cx="472.4" cy="225.2" r="1.6" fill="#4b0b6e"/>
<circle cx="472.4" cy="234.7" r="1.6" fill="#4b0b6e"/>
<circle cx="472.4" cy="242.4" r="1.6" fill="#4b0b6e"/>
<circle cx="472.4" cy="255.6" r="1.6" fill="#4b0b6e"/>
<circle cx="477.0" cy="261.7" r="1.6" fill="#4b0b6e"/>
<circle cx="467.9" cy="264.0" r="1.6" fill="#4b0b6e"/>
<circle cx="477.0" cy="270.5" r="1.6" fill="#4b0b6e"/>
<circle cx="467.9" cy="272.1" r="1.6" fill="#4b0b6e"/>
<rect x="0" y="0" width="520" height="1.1" fill="#000"/>
<rect x="0" y="293.85" width="520" height="1.15" fill="#000"/>
<rect x="0" y="0" width="1.15" height="295" fill="#000"/>
<rect x="518.5" y="0" width="1.5" height="295" fill="#000"/>
</svg>
</body></html>
